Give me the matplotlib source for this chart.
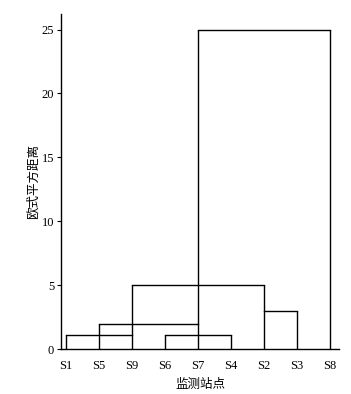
import matplotlib.pyplot as plt

plt.rcParams['font.family'] = ['Liberation Serif', 'Noto Sans CJK SC']

# leaf order and the height each leaf's stem reaches
labels = ['S1', 'S5', 'S9', 'S6', 'S7', 'S4', 'S2', 'S3', 'S8']
stem_tops = [1.1, 2.0, 5.0, 1.1, 25.0, 1.1, 5.0, 3.0, 25.0]

# horizontal joins: left leaf, right leaf, height
join_left = ['S1', 'S6', 'S5', 'S2', 'S9', 'S7']
join_right = ['S9', 'S4', 'S7', 'S3', 'S2', 'S8']
join_height = [1.1, 1.1, 2.0, 3.0, 5.0, 25.0]

yticks = [0, 5, 10, 15, 20, 25]


def main():
    fig = plt.figure(figsize=(3.51, 3.94), dpi=100)
    ax = fig.add_axes([0.174, 0.114, 0.792, 0.85])

    pos = {lab: i for i, lab in enumerate(labels)}
    for i, top in enumerate(stem_tops):
        ax.plot([i, i], [0, top], color='black', lw=1.0, solid_capstyle='butt')
    for a, b, h in zip(join_left, join_right, join_height):
        ax.plot([pos[a], pos[b]], [h, h], color='black', lw=1.0, solid_capstyle='projecting')

    ax.set_xlim(-0.15, 8.27)
    ax.set_ylim(0, 26.2)
    ax.set_xticks(range(len(labels)))
    ax.set_xticklabels(labels, fontsize=9)
    ax.set_yticks(yticks)
    ax.set_yticklabels([str(t) for t in yticks], fontsize=9)
    ax.tick_params(axis='x', length=0, pad=8)
    ax.tick_params(axis='y', length=3, width=0.8, pad=2)
    ax.spines['top'].set_visible(False)
    ax.spines['right'].set_visible(False)
    ax.spines['left'].set_linewidth(1.0)
    ax.spines['bottom'].set_linewidth(1.0)

    ax.set_ylabel('欧式平方距离', fontsize=9, family=['Noto Sans CJK SC'], labelpad=1.5)
    ax.set_xlabel('监测站点', fontsize=9, family=['Noto Sans CJK SC'], labelpad=4)

    fig.savefig('out.png', dpi=100)


if __name__ == "__main__":
    main()
